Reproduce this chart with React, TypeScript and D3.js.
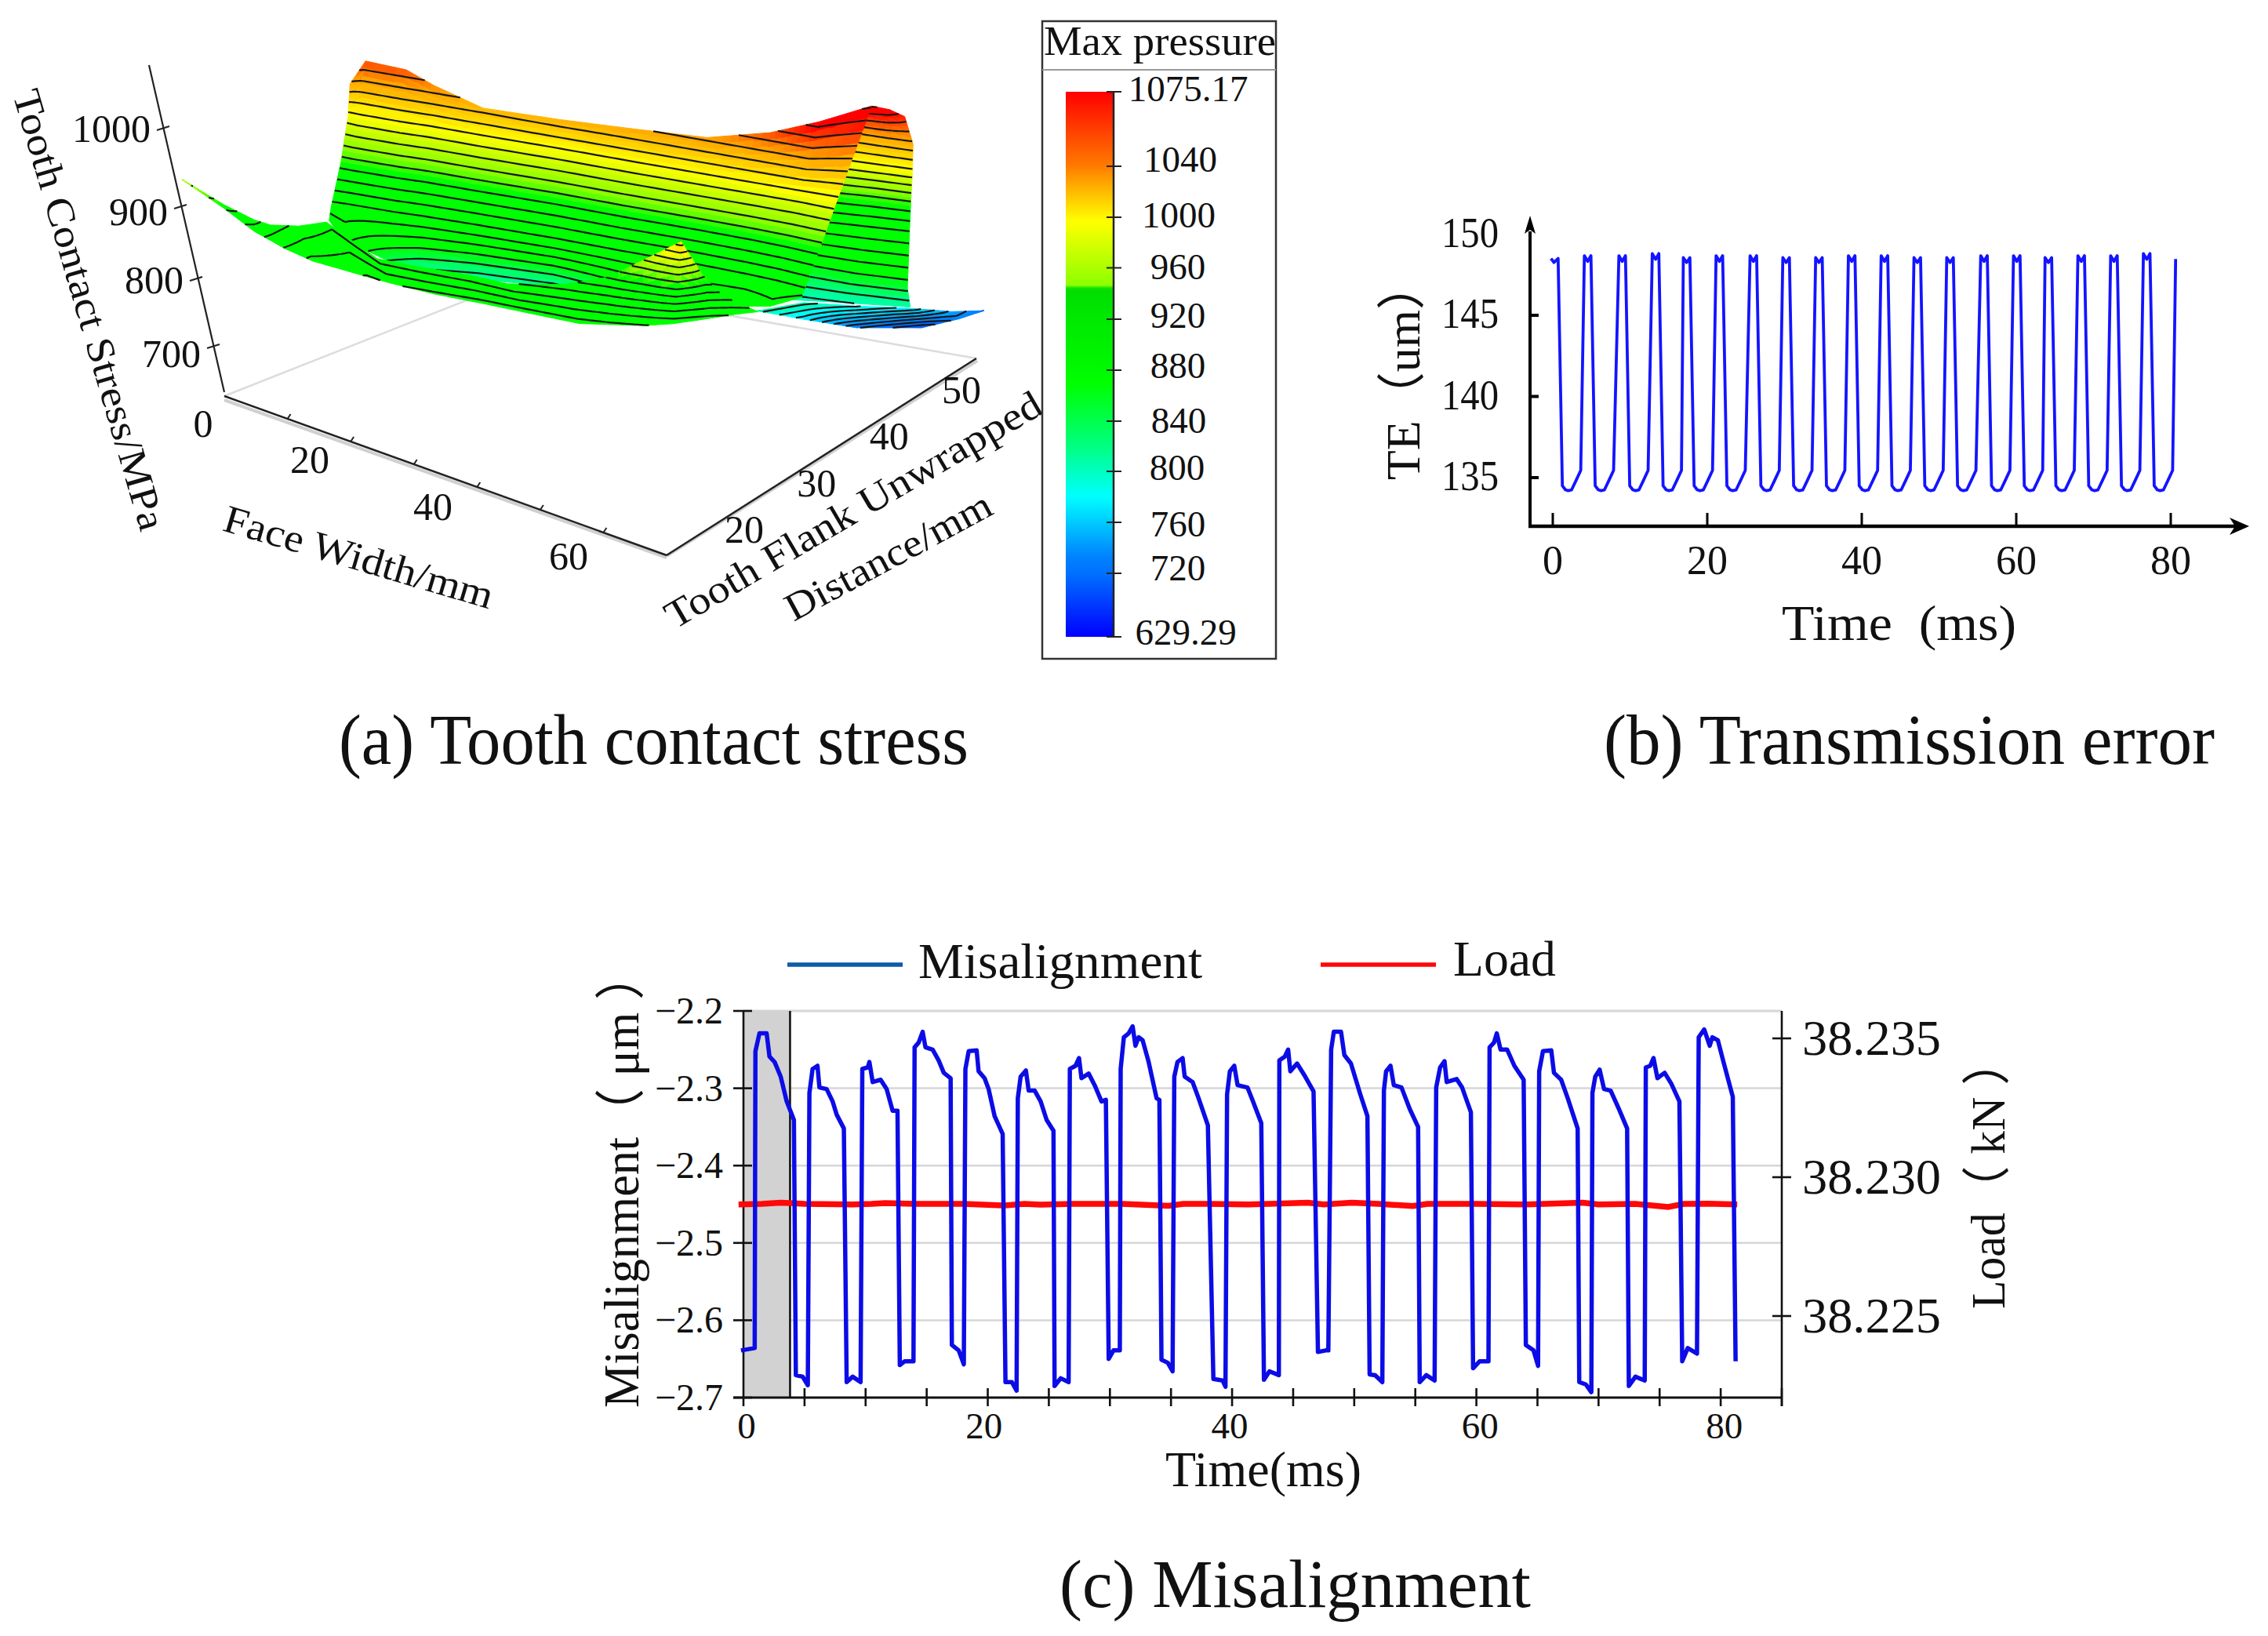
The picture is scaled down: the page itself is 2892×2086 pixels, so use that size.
import React, { useMemo } from "react";
import * as d3 from "d3";

// ---------- panel (b) transmission error ----------
const teTime = [-0.23, 0.15, 0.69,
  1.24, 1.64, 1.99, 2.44, 2.99, 3.62, 4.09, 4.52, 4.94,
  5.49, 5.89, 6.24, 6.69, 7.24, 7.87, 8.56, 8.99, 9.41,
  9.96, 10.36, 10.71, 11.16, 11.71, 12.34, 12.88, 13.31, 13.73,
  14.28, 14.68, 15.03, 15.48, 16.03, 16.66, 16.9, 17.33, 17.75,
  18.3, 18.7, 19.05, 19.5, 20.05, 20.68, 21.14, 21.57, 21.99,
  22.54, 22.94, 23.29, 23.74, 24.29, 24.92, 25.54, 25.97, 26.39,
  26.94, 27.34, 27.69, 28.14, 28.69, 29.32, 29.78, 30.21, 30.63,
  31.18, 31.58, 31.93, 32.38, 32.93, 33.56, 34.03, 34.46, 34.88,
  35.43, 35.83, 36.18, 36.63, 37.18, 37.81, 38.27, 38.7, 39.12,
  39.67, 40.07, 40.42, 40.87, 41.42, 42.05, 42.51, 42.94, 43.36,
  43.91, 44.31, 44.66, 45.11, 45.66, 46.29, 46.76, 47.19, 47.61,
  48.16, 48.56, 48.91, 49.36, 49.91, 50.54, 51.0, 51.43, 51.85,
  52.4, 52.8, 53.15, 53.6, 54.15, 54.78, 55.4, 55.83, 56.25,
  56.8, 57.2, 57.55, 58.0, 58.55, 59.18, 59.64, 60.07, 60.49,
  61.04, 61.44, 61.79, 62.24, 62.79, 63.42, 63.73, 64.16, 64.58,
  65.13, 65.53, 65.88, 66.33, 66.88, 67.51, 67.98, 68.41, 68.83,
  69.38, 69.78, 70.13, 70.58, 71.13, 71.76, 72.22, 72.65, 73.07,
  73.62, 74.02, 74.37, 74.82, 75.37, 76.0, 76.46, 76.89, 77.31,
  77.86, 78.26, 78.61, 79.06, 79.61, 80.24, 80.63];
const teValue = [148.5, 148.25, 148.5,
  134.5, 134.25, 134.2, 134.25, 134.8, 135.45, 148.67, 148.32, 148.67,
  134.5, 134.25, 134.2, 134.25, 134.8, 135.45, 148.67, 148.32, 148.67,
  134.5, 134.25, 134.2, 134.25, 134.8, 135.45, 148.8, 148.45, 148.8,
  134.5, 134.25, 134.2, 134.25, 134.8, 135.45, 148.55, 148.25, 148.55,
  134.5, 134.25, 134.2, 134.25, 134.8, 135.45, 148.67, 148.32, 148.67,
  134.5, 134.25, 134.2, 134.25, 134.8, 135.45, 148.67, 148.32, 148.67,
  134.5, 134.25, 134.2, 134.25, 134.8, 135.45, 148.55, 148.25, 148.55,
  134.5, 134.25, 134.2, 134.25, 134.8, 135.45, 148.55, 148.25, 148.55,
  134.5, 134.25, 134.2, 134.25, 134.8, 135.45, 148.67, 148.32, 148.67,
  134.5, 134.25, 134.2, 134.25, 134.8, 135.45, 148.67, 148.32, 148.67,
  134.5, 134.25, 134.2, 134.25, 134.8, 135.45, 148.55, 148.25, 148.55,
  134.5, 134.25, 134.2, 134.25, 134.8, 135.45, 148.55, 148.25, 148.55,
  134.5, 134.25, 134.2, 134.25, 134.8, 135.45, 148.67, 148.32, 148.67,
  134.5, 134.25, 134.2, 134.25, 134.8, 135.45, 148.67, 148.32, 148.67,
  134.5, 134.25, 134.2, 134.25, 134.8, 135.45, 148.55, 148.25, 148.55,
  134.5, 134.25, 134.2, 134.25, 134.8, 135.45, 148.67, 148.32, 148.67,
  134.5, 134.25, 134.2, 134.25, 134.8, 135.45, 148.67, 148.32, 148.67,
  134.5, 134.25, 134.2, 134.25, 134.8, 135.45, 148.8, 148.45, 148.8,
  134.5, 134.25, 134.2, 134.25, 134.8, 135.45, 148.47];
const teXTicks = [0, 20, 40, 60, 80];
const teYTicks = [135, 140, 145];
const teYLabels = [135, 140, 145, 150];

// ---------- panel (c) misalignment ----------
const misTime = [-0.2, 0.92, 0.98, 1.31, 1.9, 2.13, 2.55, 3.05, 3.54, 4.13, 4.29, 4.85, 5.27,
  5.4, 5.66, 6.06, 6.22, 6.81, 7.3, 7.63, 8.22, 8.45, 8.94, 9.59,
  9.73, 10.18, 10.31, 10.58, 11.23, 11.72, 12.21, 12.61, 12.8, 13.2, 13.92,
  14.01, 14.34, 14.67, 14.9, 15.49, 15.98, 16.4, 16.96, 17.06, 17.62, 18.04,
  18.17, 18.44, 19.09, 19.25, 19.74, 20.07, 20.56, 21.22, 21.45, 21.97, 22.36,
  22.46, 22.69, 23.12, 23.35, 23.84, 24.33, 24.82, 25.38, 25.47, 25.97, 26.62,
  26.72, 27.18, 27.47, 27.67, 28.26, 28.75, 29.31, 29.67, 29.9, 30.29, 30.81,
  30.88, 31.14, 31.53, 31.86, 32.09, 32.35, 32.68, 33.17, 33.82, 34.05, 34.22, 34.74, 35.13,
  35.27, 35.53, 35.95, 36.12, 36.77, 37.26, 38.02, 38.47, 39.23, 39.46,
  39.59, 39.82, 40.18, 40.45, 41.26, 41.71, 42.39, 42.61, 43.06, 43.83,
  43.87, 44.32, 44.59, 44.77, 45.32, 45.99, 46.67, 47.03, 47.66, 47.88,
  48.11, 48.33, 48.92, 49.19, 49.73, 50.5, 51.08, 51.26, 51.71, 52.3,
  52.43, 52.61, 52.97, 53.24, 53.87, 54.55, 55.23, 55.36, 55.9, 56.58,
  56.71, 57.03, 57.39, 57.57, 58.38, 58.83, 59.55, 59.73, 60.27, 60.99,
  61.08, 61.44, 61.67, 61.98, 62.52, 63.11, 63.87, 64.05, 64.68, 65.05,
  65.14, 65.45, 66.13, 66.35, 66.94, 67.48, 68.29, 68.42, 68.96, 69.41,
  69.5, 69.73, 70.09, 70.45, 70.99, 71.67, 72.34, 72.48, 73.02, 73.78,
  73.87, 74.23, 74.5, 74.82, 75.41, 75.95, 76.62, 76.85, 77.3, 78.06,
  78.2, 78.65, 79.1, 79.32, 79.77, 80.23, 80.99, 81.22];
const misValue = [-2.639, -2.636, -2.252, -2.229, -2.229, -2.259, -2.266, -2.285, -2.317, -2.341, -2.671, -2.673, -2.684,
  -2.306, -2.275, -2.271, -2.299, -2.301, -2.317, -2.334, -2.352, -2.68, -2.673, -2.68,
  -2.275, -2.273, -2.266, -2.292, -2.289, -2.301, -2.329, -2.329, -2.658, -2.653, -2.653,
  -2.247, -2.241, -2.227, -2.247, -2.25, -2.264, -2.28, -2.287, -2.632, -2.639, -2.657,
  -2.275, -2.252, -2.251, -2.278, -2.287, -2.301, -2.336, -2.359, -2.68, -2.68, -2.691,
  -2.313, -2.285, -2.277, -2.303, -2.303, -2.317, -2.341, -2.355, -2.685, -2.675, -2.68,
  -2.275, -2.271, -2.261, -2.287, -2.281, -2.296, -2.317, -2.315, -2.65, -2.639, -2.639,
  -2.275, -2.234, -2.229, -2.22, -2.245, -2.234, -2.238, -2.266, -2.313, -2.315, -2.651, -2.655, -2.666,
  -2.285, -2.266, -2.261, -2.285, -2.292, -2.313, -2.348, -2.676, -2.678, -2.686,
  -2.308, -2.278, -2.271, -2.296, -2.299, -2.317, -2.345, -2.677, -2.666, -2.671,
  -2.264, -2.259, -2.25, -2.278, -2.268, -2.285, -2.304, -2.641, -2.639, -2.639,
  -2.25, -2.227, -2.227, -2.257, -2.268, -2.308, -2.336, -2.67, -2.671, -2.68,
  -2.303, -2.278, -2.271, -2.296, -2.299, -2.327, -2.35, -2.68, -2.671, -2.678,
  -2.299, -2.273, -2.265, -2.292, -2.288, -2.299, -2.331, -2.662, -2.653, -2.653,
  -2.247, -2.241, -2.229, -2.25, -2.25, -2.271, -2.289, -2.632, -2.639, -2.659,
  -2.278, -2.252, -2.251, -2.28, -2.289, -2.313, -2.352, -2.68, -2.683, -2.693,
  -2.306, -2.285, -2.276, -2.301, -2.303, -2.327, -2.352, -2.685, -2.673, -2.678,
  -2.273, -2.271, -2.261, -2.287, -2.28, -2.294, -2.317, -2.653, -2.636, -2.643,
  -2.234, -2.224, -2.245, -2.234, -2.238, -2.266, -2.311, -2.653];
const loadTime = [-0.4, 1.5, 3.05, 5, 8.94, 10.5, 11.6, 14, 18, 21.4, 23, 24.3, 27, 31, 34.8, 36, 38, 41.3, 43, 46.2, 47.5, 49.8, 52, 54.8, 56, 60, 64, 68.7, 70, 73, 75.7, 77, 79, 81.35];
const loadValue = [38.22902, 38.22904, 38.22908, 38.22904, 38.22902, 38.22904, 38.22907, 38.22904, 38.22904, 38.22898, 38.22904, 38.22901, 38.22904, 38.22904, 38.22897, 38.22904, 38.22904, 38.22902, 38.22904, 38.22908, 38.22902, 38.22908, 38.22904, 38.22896, 38.22904, 38.22904, 38.22902, 38.22908, 38.22902, 38.22904, 38.22893, 38.22904, 38.22905, 38.22902];
const misYTicks = [-2.2, -2.3, -2.4, -2.5, -2.6, -2.7];
const misXMinor = d3.range(5, 90, 5);
const misXLabels = [0, 20, 40, 60, 80];
const misXLabelAt = [0.25, 19.7, 39.8, 60.3, 80.3];
const loadTicks = [38.235, 38.23, 38.225];
const legendNames = ["Misalignment", "Load"];
const shadedEnd = 3.75;

// ---------- panel (a) surface sheets: [column][row], face width (mm), flank (mm), stress (MPa) ----------
const wallFace = [
  [61.56, 60.13, 59.06, 58.13, 57.5, 55.63, 53.75],
  [63.13, 62.63, 62.19, 61.88, 61.25, 60, 58.75],
  [64.5, 65.25, 65.19, 65.06, 64.94, 64.75, 65],
];
const wallFlank = [
  [21.5, 24.6, 24.4, 25.5, 24.5, 21.6, 20.9],
  [21.5, 23.2, 22.9, 24.1, 23.1, 18.7, 18.8],
  [22.7, 21.8, 21.5, 22.6, 21.6, 16.6, 16.2],
];
const wallStress = [
  [1075, 1020, 980, 940, 900, 840, 805],
  [1070, 1020, 980, 940, 900, 840, 810],
  [1055, 1020, 980, 940, 900, 840, 815],
];
const tailFace = [
  [51.38, 51.38], [55.5, 55.5], [60.19, 60.19], [65.31, 66], [68.75, 69.38], [71.56, 71.56],
];
const tailFlank = [
  [15, 15], [17.6, 20.2], [19.9, 29.9], [23.6, 35.5], [30.5, 31.6], [35.3, 35.3],
];
const tailStress = [
  [815, 815], [815, 780], [800, 725], [780, 700], [745, 730], [725, 725],
];
const mainFace = [
  [15, 14.81, 14.19, 13.31, 13.13],
  [16.38, 15.69, 15.19, 14.69, 14.38],
  [20, 19.5, 19.19, 18.81, 18.44],
  [22.5, 22.19, 21.88, 21.56, 21.25],
  [26.88, 26.75, 26.56, 26.44, 26.25],
  [33.75, 33.63, 33.44, 33.31, 33.13],
  [40, 39.69, 39.31, 38.94, 38.75],
  [46.88, 46.63, 46.25, 45.81, 45.63],
  [52.5, 51.69, 51, 50.31, 50],
  [56.88, 55.13, 54.06, 53, 52.5],
  [61.56, 58.38, 56.94, 55.44, 55.31],
];
const mainFlank = [
  [40.7, 39.4, 36.3, 33.3, 32.2],
  [42.3, 38.6, 35.6, 32.6, 26.7],
  [40, 36.2, 33.2, 30.1, 26.2],
  [37.7, 34.8, 31.8, 28.7, 26.4],
  [34.1, 31.9, 28.9, 25.9, 25],
  [29.8, 27.8, 24.8, 21.7, 21.8],
  [26.3, 23.9, 20.9, 17.9, 16.9],
  [22.3, 19.6, 16.6, 13.6, 9.8],
  [19.8, 16.5, 13.5, 10.4, 5.9],
  [18.3, 14.4, 11.3, 8.3, 4.1],
  [21.5, 12.1, 9, 6, 7.4],
];
const mainStress = [
  [1021, 980, 930, 880, 866],
  [1046, 980, 930, 880, 865],
  [1044, 980, 930, 880, 835],
  [1032, 980, 930, 880, 825],
  [1016, 980, 930, 880, 815],
  [1019, 980, 930, 880, 820],
  [1022, 980, 930, 880, 850],
  [1027, 980, 930, 880, 870],
  [1045, 980, 930, 880, 862],
  [1067, 980, 930, 880, 870],
  [1075, 980, 930, 880, 868],
];
const lipFace = [
  [0, 0], [3.75, 3.75], [6.44, 6.44], [7.88, 9.19], [10.44, 11.69], [12.88, 16.63], [17.44, 18.75], [20.94, 22.5],
  [25.38, 26.88], [29.13, 30.94], [34.13, 35.44], [38.13, 38.13], [41.13, 41.13], [44.56, 43.88], [46.44, 47.38], [48.31, 49.38], [51.38, 51.38],
];
const lipFlank = [
  [25.2, 25.2], [22.8, 22.8], [21.4, 20], [22, 19], [23.9, 18.4], [26.3, 15.6], [14.2, 13.1], [11.5, 10.7],
  [8.5, 8.1], [5.1, 5.3], [3.1, 2], [1, 1], [-1.6, 0.2], [-5.8, -0.3], [-1.6, 0.4], [-0.5, 0.4], [0.1, 0.1],
];
const lipStress = [
  [955, 955], [930, 925], [915, 905], [905, 885], [895, 870], [890, 860], [892, 862], [893, 858],
  [895, 856], [897, 855], [905, 855], [925, 858], [960, 860], [1005, 865], [940, 870], [905, 875], [880, 880],
];
const sheets = [
  { face: wallFace, flank: wallFlank, stress: wallStress },
  { face: tailFace, flank: tailFlank, stress: tailStress },
  { face: mainFace, flank: mainFlank, stress: mainStress },
  { face: lipFace, flank: lipFlank, stress: lipStress },
];
const contourLevels = d3.range(636, 1080, 12.5);
const stressTicks = [700, 800, 900, 1000];
const stressLabelDy = [26, 18, 23, 17];
const faceTicks = [10, 20, 30, 40, 50, 60];
const faceLabels = [0, 20, 40, 60];
const flankLabels = [20, 30, 40, 50];

// colour bar and surface colours
const barStops = [629.29, 732, 780, 820, 870, 944, 946, 997, 1034, 1075.17];
const barColors = ["#0000ff", "#0080ff", "#00ffff", "#00ff80", "#00ff00", "#00dd00", "#8cff00", "#ffff00", "#ff9000", "#ff0000"];
const barTicks = [1075.17, 1040, 1000, 960, 920, 880, 840, 800, 760, 720, 629.29];
const barLabels = ["1075.17", "1040", "1000", "960", "920", "880", "840", "800", "760", "720", "629.29"];
const surfaceStops = [629, 720, 790, 825, 850, 927, 943, 985, 1026, 1062];
const surfaceColors = ["#0000ff", "#0070ff", "#00ffff", "#00ff80", "#00ff00", "#00ff00", "#80ff00", "#ffff00", "#ffa000", "#ff0000"];

const color = d3.scaleLinear<string>().domain(barStops).range(barColors).clamp(true);
const surfaceColor = d3.scaleLinear<string>().domain(surfaceStops).range(surfaceColors).clamp(true);

// ---------- scales ----------
const teX = d3.scaleLinear([0, 80], [1980, 2768]);
const teY = d3.scaleLinear([135, 145], [609, 402]);
const misX = d3.scaleLinear([0, 85], [948, 2272]);
const misY = d3.scaleLinear([-2.7, -2.2], [1782, 1289]);
const loadY = d3.scaleLinear([38.225, 38.235], [1678, 1324]);
const barY = d3.scaleLinear().domain([629.29, 720, 760, 800, 840, 880, 920, 960, 1000, 1040, 1075.17])
  .range([812, 731, 666, 601, 537, 472, 407, 341.5, 277, 212, 117]);
const faceX = d3.scaleLinear([0, 70], [232.1, 1232.1]);
const flankDY = d3.scaleLinear([0, 100], [0, -401.8]);
const stressDY = d3.scaleLinear([0, 1000], [1193.4, 289.4]);
const surf = (w: number, f: number, z: number): [number, number] => [faceX(w), flankDY(f) + stressDY(z)];

// floor geometry
const O: [number, number] = [286, 505], A: [number, number] = [850, 708], C: [number, number] = [1245, 457], D: [number, number] = [663, 356];
const axisZx = d3.scaleLinear().domain([630, 700, 800, 900, 1000, 1085]).range([286, 272, 250, 230, 208, 190]);
const axisZy = d3.scaleLinear().domain([630, 700, 800, 900, 1000, 1085]).range([500, 442, 356, 264, 164, 83]);
const floorFaceT = d3.scaleLinear([0, 70], [0, 1]);
const faceLabelX = d3.scaleLinear().domain([0, 20, 40, 60]).range([259, 395, 552, 725]);
const faceLabelY = d3.scaleLinear().domain([0, 20, 40, 60]).range([557, 603, 663, 726]);
const flankLabelX = d3.scaleLinear([20, 50], [949, 1226]);
const flankLabelY = d3.scaleLinear([20, 50], [692, 514]);
const lerp = (a: [number, number], b: [number, number], t: number): [number, number] => [a[0] + (b[0] - a[0]) * t, a[1] + (b[1] - a[1]) * t];

const SERIF = "'Liberation Serif', 'Noto Sans CJK SC', serif";

function T(p: { x: number; y: number; s: number; t: string; a?: string; rot?: number; len?: number; fill?: string }) {
  const { x, y, s, t, a = "start", rot = 0, len, fill = "#111" } = p;
  const extra: any = len ? { textLength: len, lengthAdjust: "spacingAndGlyphs" } : {};
  return (
    <text transform={`translate(${x},${y}) rotate(${rot})`} fontFamily={SERIF} fontSize={s} textAnchor={a} fill={fill} style={{ whiteSpace: "pre" }} {...extra}>
      {t}
    </text>
  );
}

function Sheet({ face, flank, stress, n = 8 }: { face: number[][]; flank: number[][]; stress: number[][]; n?: number }) {
  const { fills, contour } = useMemo(() => {
    const groups = new Map<string, string>();
    const cp = d3.path();
    const cols = face.length, rows = face[0].length;
    const at = (c: number, r: number, s: number, t: number) => {
      const b = (m: number[][]) =>
        (1 - s) * (1 - t) * m[c][r] + s * (1 - t) * m[c + 1][r] + (1 - s) * t * m[c][r + 1] + s * t * m[c + 1][r + 1];
      const z = b(stress);
      const [x, y] = surf(b(face), b(flank), z);
      return { x, y, z };
    };
    for (let c = 0; c < cols - 1; c++) {
      for (let r = 0; r < rows - 1; r++) {
        for (let i = 0; i < n; i++) {
          for (let j = 0; j < n; j++) {
            const q = [at(c, r, i / n, j / n), at(c, r, (i + 1) / n, j / n), at(c, r, (i + 1) / n, (j + 1) / n), at(c, r, i / n, (j + 1) / n)];
            const zm = d3.mean(q, (d) => d.z)!;
            const key = surfaceColor(Math.round(zm));
            const d = `M${q.map((p) => `${p.x.toFixed(1)},${p.y.toFixed(1)}`).join("L")}Z`;
            groups.set(key, (groups.get(key) || "") + d);
            for (const lv of contourLevels) {
              const pts: [number, number][] = [];
              for (let e = 0; e < 4; e++) {
                const a = q[e], b = q[(e + 1) % 4];
                if (a.z < lv !== b.z < lv) {
                  const t = (lv - a.z) / (b.z - a.z);
                  pts.push([a.x + (b.x - a.x) * t, a.y + (b.y - a.y) * t]);
                }
              }
              if (pts.length >= 2) {
                cp.moveTo(pts[0][0], pts[0][1]);
                cp.lineTo(pts[1][0], pts[1][1]);
              }
            }
          }
        }
      }
    }
    return { fills: Array.from(groups.entries()), contour: cp.toString() };
  }, [face, flank, stress, n]);
  return (
    <g>
      {fills.map(([c, d]) => (
        <path key={c} d={d} fill={c} stroke={c} strokeWidth={1} />
      ))}
      <path d={contour} fill="none" stroke="#161616" strokeWidth={2.2} />
    </g>
  );
}

function PanelA() {
  return (
    <g>
      {/* floor */}
      <line x1={O[0]} y1={O[1]} x2={D[0]} y2={D[1]} stroke="#dcdcdc" strokeWidth={2.5} />
      <line x1={C[0]} y1={C[1]} x2={D[0]} y2={D[1]} stroke="#dcdcdc" strokeWidth={2.5} />
      <line x1={O[0]} y1={O[1] + 5} x2={A[0]} y2={A[1] + 3} stroke="#d0d0d0" strokeWidth={4} />
      <line x1={A[0]} y1={A[1] + 1} x2={C[0] + 1} y2={C[1] + 3} stroke="#d0d0d0" strokeWidth={4} />
      <line x1={O[0]} y1={O[1]} x2={A[0]} y2={A[1]} stroke="#222" strokeWidth={2.5} />
      <line x1={A[0]} y1={A[1]} x2={C[0]} y2={C[1]} stroke="#222" strokeWidth={2.5} />
      {faceTicks.map((t) => {
        const [x, y] = lerp(O, A, floorFaceT(t));
        return <line key={t} x1={x} y1={y} x2={x + 4} y2={y - 6} stroke="#222" strokeWidth={2} />;
      })}
      {sheets.map((s, i) => (
        <Sheet key={i} face={s.face} flank={s.flank} stress={s.stress} />
      ))}
      {/* stress axis */}
      <line x1={axisZx(1085)} y1={axisZy(1085)} x2={axisZx(630)} y2={axisZy(630)} stroke="#222" strokeWidth={2.2} />
      {stressTicks.map((v, i) => (
        <g key={v}>
          <line x1={axisZx(v) - 8} y1={axisZy(v) + 2} x2={axisZx(v) + 8} y2={axisZy(v) - 3} stroke="#222" strokeWidth={2.2} />
          <T x={axisZx(v) - 16} y={axisZy(v) + stressLabelDy[i]} s={50} a="end" t={String(v)} />
        </g>
      ))}
      {/* labels */}
      {faceLabels.map((v) => (
        <T key={v} x={faceLabelX(v)} y={faceLabelY(v)} s={50} a="middle" t={String(v)} />
      ))}
      {flankLabels.map((v) => (
        <T key={v} x={flankLabelX(v)} y={flankLabelY(v)} s={50} a="middle" t={String(v)} />
      ))}
      <T x={16} y={120} s={50} rot={73.7} len={583} t="Tooth Contact Stress/MPa" />
      <T x={282} y={676} s={50} rot={16.4} len={356} t="Face Width/mm" />
      <T x={860} y={803} s={50} rot={-30.4} len={548} t="Tooth Flank Unwrapped" />
      <T x={1012} y={793} s={50} rot={-28.3} len={292} t="Distance/mm" />
      {/* colour bar */}
      <rect x={1329} y={27} width={298} height={813} fill="#fff" stroke="#333" strokeWidth={2.5} />
      <line x1={1329} y1={89} x2={1627} y2={89} stroke="#999" strokeWidth={2} />
      <T x={1331} y={70} s={52} len={296} t="Max pressure" />
      <defs>
        <linearGradient id="bar" x1="0" x2="0" y1="0" y2="1">
          {d3.range(0, 1.001, 0.005).map((t) => {
            const z = barY.invert(117 + t * (812 - 117));
            return <stop key={t} offset={t} stopColor={color(z)} />;
          })}
        </linearGradient>
      </defs>
      <rect x={1359} y={117} width={61} height={695} fill="url(#bar)" />
      <line x1={1420} y1={117} x2={1420} y2={812} stroke="#222" strokeWidth={2.5} />
      {barTicks.map((v, i) => {
        const ly = [128.5, 219, 290, 356, 418, 482, 552, 612, 684, 740, 822][i];
        const lx = [1515, 1505, 1503, 1502, 1502, 1502, 1503, 1501, 1502, 1502, 1512][i];
        return (
          <g key={v}>
            <line x1={1411} y1={barY(v)} x2={1430} y2={barY(v)} stroke="#222" strokeWidth={2} />
            <T x={lx} y={ly} s={47} a="middle" t={barLabels[i]} />
          </g>
        );
      })}
      <T x={432} y={974} s={91} len={803} t="(a) Tooth contact stress" />
    </g>
  );
}

function PanelB() {
  const line = d3.line<number>().x((_, i) => teX(teTime[i])).y((d) => teY(d));
  return (
    <g>
      <line x1={1951} y1={295} x2={1951} y2={673} stroke="#000" strokeWidth={4} />
      <path d="M1951,275 L1944,298 L1951,293 L1958,298 Z" fill="#000" />
      <line x1={1949} y1={671} x2={2860} y2={671} stroke="#000" strokeWidth={4.5} />
      <path d="M2868,671 L2843,660 L2850,671 L2843,682 Z" fill="#000" />
      {teXTicks.map((v) => (
        <g key={v}>
          <line x1={teX(v)} y1={654} x2={teX(v)} y2={671} stroke="#000" strokeWidth={3} />
          <T x={teX(v)} y={732} s={52} a="middle" t={String(v)} />
        </g>
      ))}
      {teYTicks.map((v) => (
        <line key={v} x1={1951} y1={teY(v)} x2={1962} y2={teY(v)} stroke="#000" strokeWidth={4} />
      ))}
      {teYLabels.map((v) => (
        <T key={v} x={1911} y={teY(v) + 16} s={54} a="end" len={73} t={String(v)} />
      ))}
      <path d={line(teValue)!} fill="none" stroke="#1414ff" strokeWidth={3.8} strokeLinejoin="round" />
      <T x={1810} y={612} s={62} rot={-90} len={279} t="TE（um）" />
      <T x={2272} y={816} s={64} len={299} t="Time  (ms)" />
      <T x={2045} y={974} s={91} len={779} t="(b) Transmission error" />
    </g>
  );
}

function PanelC() {
  const mis = d3.line<number>().x((_, i) => misX(misTime[i])).y((d) => misY(d));
  const load = d3.line<number>().x((_, i) => misX(loadTime[i])).y((d) => loadY(d));
  return (
    <g>
      {misYTicks.slice(0, 5).map((v) => (
        <line key={v} x1={misX(0)} y1={misY(v)} x2={misX(85)} y2={misY(v)} stroke="#d6d6d6" strokeWidth={v === -2.2 ? 3 : 2.5} />
      ))}
      <rect x={misX(0)} y={misY(-2.2)} width={misX(shadedEnd) - misX(0)} height={misY(-2.7) - misY(-2.2)} fill="#d2d2d2" />
      <line x1={misX(shadedEnd) + 1} y1={misY(-2.2)} x2={misX(shadedEnd) + 1} y2={misY(-2.7)} stroke="#111" strokeWidth={2.6} />
      <line x1={misX(0)} y1={misY(-2.2)} x2={misX(0)} y2={misY(-2.7) + 11} stroke="#111" strokeWidth={2.6} />
      <line x1={misX(85)} y1={misY(-2.2)} x2={misX(85)} y2={misY(-2.7) + 11} stroke="#111" strokeWidth={2.6} />
      <line x1={935} y1={misY(-2.7)} x2={misX(85)} y2={misY(-2.7)} stroke="#111" strokeWidth={3} />
      {misYTicks.map((v) => (
        <g key={v}>
          <line x1={935} y1={misY(v)} x2={959} y2={misY(v)} stroke="#111" strokeWidth={2.6} />
          <T x={922} y={misY(v) + 16} s={48} a="end" t={`\u2212${Math.abs(v).toFixed(1)}`} />
        </g>
      ))}
      {misXMinor.map((v) => (
        <line key={v} x1={misX(v)} y1={misY(-2.7) - 12} x2={misX(v)} y2={misY(-2.7) + 11} stroke="#111" strokeWidth={2.6} />
      ))}
      {misXLabels.map((v, i) => (
        <T key={v} x={misX(misXLabelAt[i])} y={1834} s={47} a="middle" t={String(v)} />
      ))}
      {loadTicks.map((v) => (
        <g key={v}>
          <line x1={2260} y1={loadY(v)} x2={2284} y2={loadY(v)} stroke="#111" strokeWidth={2.6} />
          <T x={2298} y={loadY(v) + 21} s={64} len={177} t={v.toFixed(3)} />
        </g>
      ))}
      <path d={load(loadValue)!} fill="none" stroke="#ff0808" strokeWidth={7.5} />
      <path d={mis(misValue)!} fill="none" stroke="#0c0ce6" strokeWidth={5.5} strokeLinejoin="round" />
      {/* legend */}
      <line x1={1004} y1={1230} x2={1151} y2={1230} stroke="#0f5ca6" strokeWidth={5.5} />
      <T x={1171} y={1247} s={64} len={362} t={legendNames[0]} />
      <line x1={1684} y1={1230} x2={1831} y2={1230} stroke="#ff0808" strokeWidth={5.5} />
      <T x={1853} y={1244} s={64} len={131} t={legendNames[1]} />
      <T x={814} y={1795} s={64} rot={-90} len={582} t="Misalignment（ μm ）" />
      <T x={2556} y={1669} s={62} rot={-90} len={345} t="Load（ kN ）" />
      <T x={1486} y={1895} s={64} len={250} t="Time(ms)" />
      <T x={1351} y={2049} s={87} len={601} t="(c) Misalignment" />
    </g>
  );
}

export default function App() {
  return (
    <svg width={2892} height={2086} viewBox="0 0 2892 2086" style={{ position: "absolute", left: 0, top: 0, background: "#fff" }}>
      <rect width={2892} height={2086} fill="#fff" />
      <PanelA />
      <PanelB />
      <PanelC />
    </svg>
  );
}
